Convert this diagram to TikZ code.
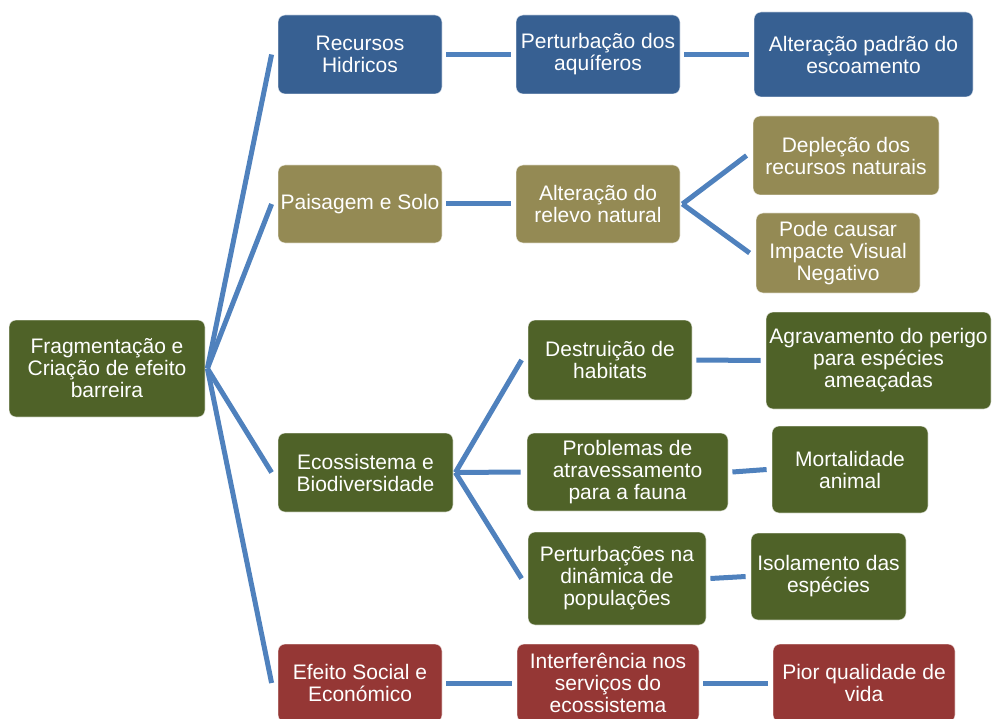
\documentclass[tikz,border=0pt]{standalone}
\usepackage{fontspec}
\setmainfont{Liberation Sans}
\usetikzlibrary{calc}
\definecolor{lnblue}{HTML}{4F81BD}
\definecolor{hblue}{RGB}{55,96,146}
\definecolor{htan}{HTML}{948A54}
\definecolor{hgreen}{HTML}{4F6228}
\definecolor{hred}{HTML}{953735}
\begin{document}
\begin{tikzpicture}[x=1pt,y=-1pt,
  box/.style={rounded corners=7pt, draw=white, draw opacity=0.6, line width=0.8pt,
    text=white, align=center, inner sep=1pt,
    font=\fontsize{21}{22}\selectfont},
  bluebox/.style={box, fill=hblue},
  tanbox/.style={box, fill=htan},
  greenbox/.style={box, fill=hgreen},
  redbox/.style={box, fill=hred},
  sz/.style 2 args={minimum width=#1, minimum height=#2},
  link/.style={draw=lnblue, line width=5pt}]
\useasboundingbox (0,0) rectangle (992,719);
\clip (0,0) rectangle (992,719);

% root
\node[greenbox, sz={196}{97}] (root) at (107,368.5) {Fragmentação e\\Criação de efeito\\barreira};

% water branch
\node[bluebox, sz={164}{79}] (R1) at (360,54.5) {Recursos\\Hidricos};
\node[bluebox, sz={164}{79}] (R2) at (598,54.5) {Perturbação dos\\aquíferos};
\node[bluebox, sz={219}{85}] (R3) at (863.5,54.5) {Alteração padrão do\\escoamento};

% landscape branch
\node[tanbox, sz={164}{78}] (P1) at (360,204) {Paisagem e Solo};
\node[tanbox, sz={164}{78}] (P2) at (598,204) {Alteração do\\relevo natural};
\node[tanbox, sz={186}{79}] (P3) at (846,155.5) {Depleção dos\\recursos naturais};
\node[tanbox, sz={164}{80}] (P4) at (838,253) {Pode causar\\Impacte Visual\\Negativo};

% ecosystem branch
\node[greenbox, sz={175}{79}] (E1) at (365.5,472.5) {Ecossistema e\\Biodiversidade};
\node[greenbox, sz={164}{80}] (E2) at (610,360) {Destruição de\\habitats};
\node[greenbox, sz={225}{97}] (E3) at (878.5,360.5) {Agravamento do perigo\\para espécies\\ameaçadas};
\node[greenbox, sz={201}{78}] (E4) at (627.5,472) {Problemas de\\atravessamento\\para a fauna};
\node[greenbox, sz={156}{87}] (E5) at (850,469.5) {Mortalidade\\animal};
\node[greenbox, sz={178}{93}] (E6) at (617,578.5) {Perturbações na\\dinâmica de\\populações};
\node[greenbox, sz={155}{87}] (E7) at (828.5,576.5) {Isolamento das\\espécies};

% social branch
\node[redbox, sz={164}{78}] (S1) at (360,683) {Efeito Social e\\Económico};
\node[redbox, sz={182}{78}] (S2) at (608,683) {Interferência nos\\serviços do\\ecossistema};
\node[redbox, sz={182}{78}] (S3) at (864,683) {Pior qualidade de\\vida};

% connectors from the root
\foreach \t in {R1,P1,E1,S1}
  \draw[link] ($(root.east)+(2,0)$) -- ($(\t.west)+(-6,0)$);

% fans
\foreach \t in {E2,E4,E6}
  \draw[link] ($(E1.east)+(2,0)$) -- ($(\t.west)+(-6,0)$);
\foreach \t in {P3,P4}
  \draw[link] ($(P2.east)+(2,0)$) -- ($(\t.west)+(-6,0)$);

% straight links
\foreach \a/\b in {R1/R2,R2/R3,P1/P2,E2/E3,E4/E5,E6/E7,S1/S2,S2/S3}
  \draw[link] ($(\a.east)+(4,0)$) -- ($(\b.west)+(-5,0)$);
\end{tikzpicture}
\end{document}
